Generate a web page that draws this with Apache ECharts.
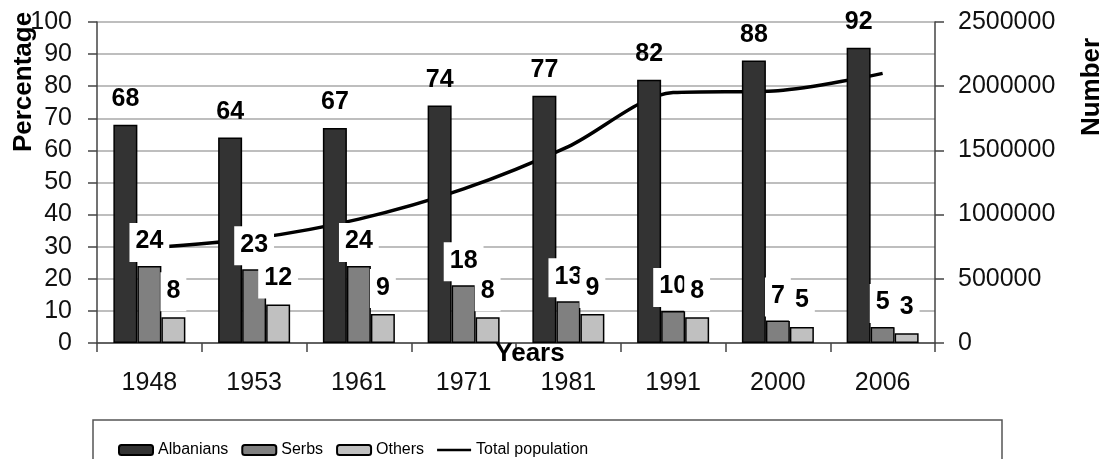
<!DOCTYPE html>
<html>
<head>
<meta charset="utf-8">
<script src="https://cdn.jsdelivr.net/npm/echarts@6/dist/echarts.min.js"></script>
<style>html,body{margin:0;padding:0;background:#fff}#c{width:1114px;height:459px}</style>
</head>
<body>
<div id="c"></div>
<script>
const years = ['1948','1953','1961','1971','1981','1991','2000','2006'];
const albanians = [68, 64, 67, 74, 77, 82, 88, 92];
const serbs = [24, 23, 24, 18, 13, 10, 7, 5];
const others = [8, 12, 9, 8, 9, 8, 5, 3];
const totalPopulation = [740000, 815000, 965000, 1200000, 1530000, 1950000, 1965000, 2100000];

const FONT = '"Liberation Sans", Arial, sans-serif';

const chart = echarts.init(document.getElementById('c'), null, {renderer: 'canvas'});
const boxLabel = (dist) => ({
  show: true, position: 'top', distance: dist,
  fontFamily: FONT, fontSize: 25, fontWeight: 'bold', color: '#000',
  backgroundColor: '#fff', padding: [6, 6, 8, 6]
});
chart.setOption({
  animation: false,
  grid: {left: 97, right: 179, top: 22, bottom: 116},
  legend: {
    left: 113, top: 437, itemWidth: 34, itemHeight: 10, itemGap: 13,
    textStyle: {fontFamily: FONT, fontSize: 16, color: '#000'},
    data: ['Albanians', 'Serbs', 'Others',
      {name: 'Total population', icon: 'path://M0,0 H40 V3 H0 Z'}]
  },
  xAxis: {
    type: 'category', data: years,
    axisLine: {lineStyle: {color: '#444', width: 1.5}},
    axisTick: {show: true, length: 9, lineStyle: {color: '#444', width: 1.5}},
    axisLabel: {fontFamily: FONT, fontSize: 25, color: '#111', margin: 28}
  },
  yAxis: [{
    type: 'value', min: 0, max: 100, interval: 10,
    axisLine: {show: true, lineStyle: {color: '#444', width: 1.5}},
    axisTick: {show: true, length: 9, lineStyle: {color: '#444', width: 1.5}},
    axisLabel: {fontFamily: FONT, fontSize: 25, color: '#111', margin: 25},
    splitLine: {lineStyle: {color: '#a8a8a8', width: 1.5}}
  }, {
    type: 'value', min: 0, max: 2500000, interval: 500000,
    axisLine: {show: true, lineStyle: {color: '#444', width: 1.5}},
    axisTick: {show: true, length: 9, lineStyle: {color: '#444', width: 1.5}},
    axisLabel: {fontFamily: FONT, fontSize: 25, color: '#111', margin: 23,
      formatter: (v) => String(v)},
    splitLine: {show: false}
  }],
  graphic: [
    {type: 'text', x: 24, y: 82, rotation: Math.PI / 2,
     style: {text: 'Percentage', font: 'bold 26px ' + FONT, fill: '#000', textAlign: 'center', textVerticalAlign: 'middle'}},
    {type: 'text', x: 1092, y: 87, rotation: Math.PI / 2,
     style: {text: 'Number', font: 'bold 26px ' + FONT, fill: '#000', textAlign: 'center', textVerticalAlign: 'middle'}},
    {type: 'text', x: 530, y: 354, z: 100,
     style: {text: 'Years', font: 'bold 26px ' + FONT, fill: '#000', textAlign: 'center', textVerticalAlign: 'middle'}},
    {type: 'rect', shape: {x: 93, y: 420, width: 909, height: 60}, silent: true,
     style: {fill: 'none', stroke: '#555', lineWidth: 1.5}}
  ],
  series: [{
    name: 'Albanians', type: 'bar', data: albanians, barWidth: 24, barGap: '0%',
    itemStyle: {color: '#333333', borderColor: '#000', borderWidth: 1.5},
    label: {show: true, position: 'top', distance: 13, fontFamily: FONT, fontSize: 25, fontWeight: 'bold', color: '#000'}
  }, {
    name: 'Serbs', type: 'bar', data: serbs, barWidth: 24, barGap: '0%',
    itemStyle: {color: '#808080', borderColor: '#000', borderWidth: 1.5},
    label: boxLabel(4)
  }, {
    name: 'Others', type: 'bar', data: others, barWidth: 24, barGap: '0%',
    itemStyle: {color: '#c0c0c0', borderColor: '#000', borderWidth: 1.5},
    label: boxLabel(6)
  }, {
    name: 'Total population', type: 'line', yAxisIndex: 1, data: totalPopulation,
    smooth: 0.3, symbol: 'none', z: 1,
    lineStyle: {color: '#000', width: 3.5}, itemStyle: {color: '#000'}
  }]
});
</script>
</body>
</html>
